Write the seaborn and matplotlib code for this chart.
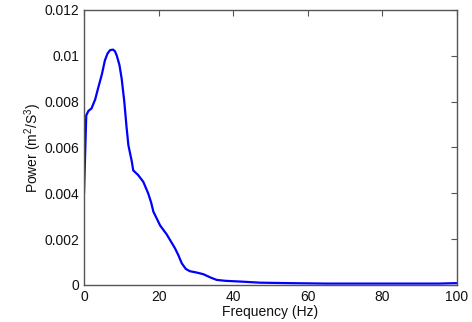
import matplotlib
matplotlib.use("Agg")
import matplotlib.pyplot as plt
import matplotlib.ticker as mticker
import seaborn as sns
import pandas as pd

# Power spectrum of the acceleration signal
freq_hz = [0, 0.6, 1.2, 2.0, 3.0, 3.8, 4.8, 5.6, 6.3, 7.0, 7.8, 8.3, 8.8, 9.5,
           10.1, 10.8, 11.4, 11.9, 12.8, 13.2, 14.5, 15.9, 17.2, 18.0, 18.6,
           19.5, 20.4, 22.2, 24.4, 25.3, 26.2, 27.3, 28.4, 30.0, 32.0, 34.0,
           35.6, 38.0, 41.8, 47.2, 55.0, 65.0, 75.0, 85.0, 95.0, 100.0]
power = [0.0040, 0.0074, 0.0076, 0.0077, 0.0081, 0.0086, 0.0092, 0.0098,
         0.0101, 0.01025, 0.01027, 0.0102, 0.0100, 0.0096, 0.0090, 0.0080,
         0.0069, 0.0061, 0.0054, 0.0050, 0.0048, 0.0045, 0.0040, 0.0036,
         0.0032, 0.0029, 0.0026, 0.0022, 0.0016, 0.0013, 0.00095, 0.0007,
         0.0006, 0.00055, 0.00047, 0.00032, 0.00022, 0.00018, 0.00015,
         0.0001, 0.00008, 0.00006, 0.00006, 0.00006, 0.00006, 0.00008]

x_ticks = [0, 20, 40, 60, 80, 100]
y_ticks = [0, 0.002, 0.004, 0.006, 0.008, 0.01, 0.012]

df = pd.DataFrame({"freq": freq_hz, "power": power})

sns.set_style("white")
plt.rcParams["font.family"] = ["Liberation Sans", "DejaVu Sans"]
plt.rcParams["mathtext.fontset"] = "custom"
plt.rcParams["mathtext.rm"] = "Liberation Sans"
plt.rcParams["mathtext.it"] = "Liberation Sans"

fig = plt.figure(figsize=(4.72, 3.22), dpi=100)
ax = fig.add_axes([0.178, 0.115, 0.790, 0.854])

sns.lineplot(data=df, x="freq", y="power", ax=ax, color="#0000ff",
             linewidth=1.6, sort=False)

ax.set_xlim(0, 100)
ax.set_ylim(0, 0.012)
ax.set_xticks(x_ticks)
ax.set_yticks(y_ticks)
ax.yaxis.set_major_formatter(mticker.FuncFormatter(lambda v, p: f"{v:g}"))
ax.xaxis.set_major_formatter(mticker.FuncFormatter(lambda v, p: f"{v:g}"))

edge = "#555555"
for s in ax.spines.values():
    s.set_color(edge)
    s.set_linewidth(1.0)
ax.tick_params(direction="in", length=4, width=0.8, color=edge,
               top=True, right=True, labelsize=10, labelcolor="#111111")

ax.set_xlabel("Frequency (Hz)", fontsize=10, labelpad=1, color="#111111")
ax.set_ylabel("Power (m$^2$/S$^3$)", fontsize=10, labelpad=0, color="#111111")

fig.savefig("out.png", dpi=100)
